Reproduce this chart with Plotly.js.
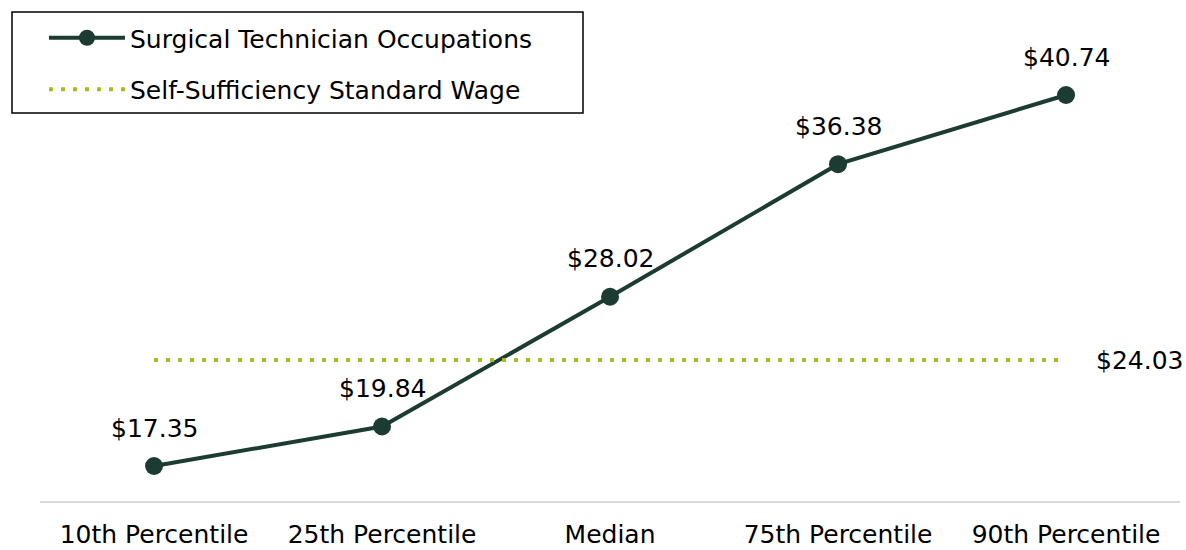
<!DOCTYPE html>
<html><head><meta charset="utf-8">
<script src="https://cdn.plot.ly/plotly-3.0.1.min.js"></script>
<style>body{margin:0;background:#fff}#c{width:1186px;height:550px}</style>
</head><body><div id="c"></div>
<script>
const categories = ["10th Percentile","25th Percentile","Median","75th Percentile","90th Percentile"];
const wages = [17.35, 19.84, 28.02, 36.38, 40.74];
const standardWage = [24.03, 24.03, 24.03, 24.03, 24.03];
const wageLabels = ["$17.35","$19.84","$28.02","$36.38","$40.74"];
const standardLabel = "$24.03";

const xs = categories.map((_, i) => i);
const F = "'DejaVu Sans', sans-serif";
const FS = 25;

const traces = [
  {x: xs, y: wages, mode: 'lines+markers', name: 'Surgical Technician Occupations', legendgroup: 'a',
   line: {color: '#1c3b33', width: 4}, marker: {color: '#1c3b33', size: 18}},
  {x: xs, y: standardWage, mode: 'lines', name: 'Self-Sufficiency Standard Wage', legendgroup: 'b',
   line: {color: '#a2bf1c', width: 4, dash: '4px,8px'}}
];

const annotations = xs.map((x, i) => ({x: x, y: wages[i], text: wageLabels[i], showarrow: false,
  yshift: 38, font: {size: FS, color: '#000', family: F}}));
annotations.push({x: xs[xs.length-1] + 0.32, y: standardWage[standardWage.length-1], text: standardLabel,
  showarrow: false, font: {size: FS, color: '#000', family: F}});

// plot area: x 12..1180, y 12..502
const W = 1186, H = 550, L = 12, R = 6, T = 12, B = 48;
const pw = W - L - R, ph = H - T - B;
const layout = {
  width: W, height: H,
  margin: {l: L, r: R, t: T, b: B},
  paper_bgcolor: '#fff', plot_bgcolor: '#fff',
  font: {family: F, size: FS, color: '#000'},
  xaxis: {range: [-0.623, -0.623 + pw/228], tickvals: xs, ticktext: categories, showgrid: false, zeroline: false,
    showline: false, ticks: '', tickangle: 0, ticklabelstandoff: 15, automargin: false,
    tickfont: {size: FS, family: F, color: '#000'}},
  yaxis: {range: [15.08, 45.973], visible: false, showgrid: false, zeroline: false},
  shapes: [
    {type: 'line', xref: 'x', yref: 'paper', x0: -0.5, x1: -0.623 + pw/228, y0: 0, y1: 0,
     line: {color: '#d9d9d9', width: 2}},
    {type: 'rect', xref: 'paper', yref: 'paper', x0: 0, x1: (583 - L)/pw, y0: 1 - (113 - T)/ph, y1: 1,
     line: {color: '#000', width: 1.5}, fillcolor: 'rgba(0,0,0,0)', layer: 'below'}
  ],
  showlegend: true,
  legend: {x: (44 - L)/pw, y: 1 - 3/ph, xanchor: 'left', yanchor: 'top',
    bgcolor: 'rgba(0,0,0,0)', borderwidth: 0, itemwidth: 76, traceorder: 'grouped', tracegroupgap: 16,
    font: {size: FS, family: F, color: '#000'}},
  annotations: annotations
};
Plotly.newPlot('c', traces, layout, {displayModeBar: false});
</script></body></html>
